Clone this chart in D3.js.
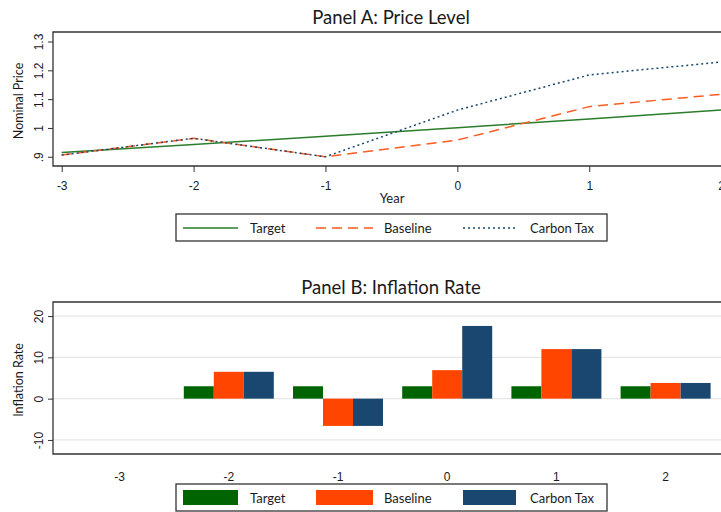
<!DOCTYPE html>
<html>
<head>
<meta charset="utf-8">
<script src="https://cdn.jsdelivr.net/npm/d3@7"></script>
<style>
  body { margin: 0; background: #fff; overflow: hidden; }
  svg { display: block; font-family: Lato, "Open Sans", sans-serif; }
</style>
</head>
<body>
<div id="chart"></div>
<script>
// data
const years = [-3, -2, -1, 0, 1, 2]
const priceTarget = [0.915, 0.943, 0.971, 1.001, 1.031, 1.062]
const priceBaseline = [0.906, 0.964, 0.900, 0.958, 1.074, 1.117]
const priceCarbon = [0.906, 0.964, 0.900, 1.062, 1.184, 1.229]
const priceTicks = [0.9, 1.0, 1.1, 1.2, 1.3]
const priceTickLabels = ['.9', '1', '1.1', '1.2', '1.3']

const inflYears = ['-3', '-2', '-1', '0', '1', '2']
const inflTarget = [null, 3.0, 3.0, 3.0, 3.0, 3.0]
const inflBaseline = [null, 6.5, -6.6, 6.9, 12.0, 3.8]
const inflCarbon = [null, 6.5, -6.6, 17.6, 12.0, 3.8]
const inflTicks = [-10, 0, 10, 20]

const seriesNames = ['Target', 'Baseline', 'Carbon Tax']
const lineColors = ['#2a7d2a', '#ff5a1f', '#1a476f']
const barColors = ['#006400', '#ff4500', '#1a476f']

const width = 721
const height = 512
const frameColor = '#333'
const textColor = '#1a1a1a'

let svg = d3.select('div#chart').append('svg').attr('width', width).attr('height', height)

// ---------- Panel A ----------
const A = { left: 53, right: 731, top: 32, bottom: 166 }
let xA = d3.scaleLinear().domain([-3.066, 2.075]).range([A.left, A.right])
let yA = d3.scaleLinear().domain([0.868, 1.333]).range([A.bottom, A.top])

svg.append('text').attr('x', 391).attr('y', 24).attr('text-anchor', 'middle')
    .attr('font-size', 18.5).attr('fill', textColor).text('Panel A: Price Level')

let gA = svg.append('g')
svg.append('clipPath').attr('id', 'clipA')
    .append('rect').attr('x', A.left).attr('y', A.top).attr('width', A.right - A.left).attr('height', A.bottom - A.top)

let lineA = d3.line().x((d, i) => xA(years[i])).y(d => yA(d))
const dashes = [null, '10,6', '2,3']
;[priceTarget, priceBaseline, priceCarbon].forEach((s, i) => {
    gA.append('path').datum(s).attr('d', lineA).attr('fill', 'none')
        .attr('stroke', lineColors[i]).attr('stroke-width', 1.5)
        .attr('stroke-dasharray', dashes[i]).attr('clip-path', 'url(#clipA)')
})

gA.append('path').attr('d', `M${A.right},${A.top}H${A.left}V${A.bottom}H${A.right}`)
    .attr('fill', 'none').attr('stroke', frameColor).attr('stroke-width', 1.3)

// y axis A
let yAxisA = svg.append('g').attr('transform', `translate(${A.left},0)`)
    .call(d3.axisLeft(yA).tickValues(priceTicks).tickSize(5).tickFormat((d, i) => priceTickLabels[i]))
yAxisA.select('.domain').remove()
yAxisA.selectAll('line').attr('stroke', frameColor)
yAxisA.selectAll('text').attr('font-size', 12).attr('fill', textColor).attr('font-family', null)
    .attr('text-anchor', 'middle').attr('x', 0).attr('y', 0).attr('dy', 0)
    .attr('transform', 'translate(-10,0) rotate(-90)')

svg.append('text').attr('transform', `translate(23,${(A.top + A.bottom) / 2 + 2}) rotate(-90)`)
    .attr('text-anchor', 'middle').attr('font-size', 12.5).attr('fill', textColor).text('Nominal Price')

// x axis A
let xAxisA = svg.append('g').attr('transform', `translate(0,${A.bottom})`)
    .call(d3.axisBottom(xA).tickValues(years).tickSize(6).tickFormat(d => String(d)))
xAxisA.select('.domain').remove()
xAxisA.selectAll('line').attr('stroke', frameColor)
xAxisA.selectAll('text').attr('font-size', 12).attr('fill', textColor).attr('font-family', null).attr('y', 15)
svg.append('text').attr('x', 392).attr('y', 203).attr('text-anchor', 'middle')
    .attr('font-size', 13).attr('fill', textColor).text('Year')

// legend A
let legA = svg.append('g')
legA.append('rect').attr('x', 176).attr('y', 214).attr('width', 431).attr('height', 27)
    .attr('fill', '#fff').attr('stroke', frameColor).attr('stroke-width', 1.3)
const legX = [[183, 238, 250], [316, 373, 384], [463, 516, 530]]
seriesNames.forEach((n, i) => {
    legA.append('line').attr('x1', legX[i][0]).attr('x2', legX[i][1]).attr('y1', 228).attr('y2', 228)
        .attr('stroke', lineColors[i]).attr('stroke-width', 1.5).attr('stroke-dasharray', dashes[i])
    legA.append('text').attr('x', legX[i][2]).attr('y', 232.5).attr('font-size', 13).attr('fill', textColor).text(n)
})

// ---------- Panel B ----------
const B = { left: 53, right: 731, top: 302, bottom: 454 }
let xB = d3.scaleBand().domain(inflYears).range([65, 720.2])
let xSub = d3.scaleBand().domain(seriesNames).range([0, 90])
let yB = d3.scaleLinear().domain([-13.4, 23.4]).range([B.bottom, B.top])

svg.append('text').attr('x', 391).attr('y', 294).attr('text-anchor', 'middle')
    .attr('font-size', 18.5).attr('fill', textColor).text('Panel B: Inflation Rate')

// gridlines
svg.append('g').selectAll('line').data(inflTicks).join('line')
    .attr('x1', B.left).attr('x2', B.right).attr('y1', d => yB(d)).attr('y2', d => yB(d))
    .attr('stroke', '#e6e6e6').attr('stroke-width', 1.3)

let barsG = svg.append('g')
;[inflTarget, inflBaseline, inflCarbon].forEach((s, si) => {
    barsG.selectAll(null).data(s.map((v, i) => ({ cat: inflYears[i], v: v })).filter(d => d.v !== null))
        .join('rect')
        .attr('x', d => xB(d.cat) + (xB.bandwidth() - 90) / 2 + xSub(seriesNames[si]))
        .attr('width', xSub.bandwidth())
        .attr('y', d => yB(Math.max(0, d.v)))
        .attr('height', d => Math.abs(yB(d.v) - yB(0)))
        .attr('fill', barColors[si])
})

svg.append('path').attr('d', `M${B.right},${B.top}H${B.left}V${B.bottom}H${B.right}`)
    .attr('fill', 'none').attr('stroke', frameColor).attr('stroke-width', 1.3)

let yAxisB = svg.append('g').attr('transform', `translate(${B.left},0)`)
    .call(d3.axisLeft(yB).tickValues(inflTicks).tickSize(5).tickFormat(d => String(d)))
yAxisB.select('.domain').remove()
yAxisB.selectAll('line').attr('stroke', frameColor)
yAxisB.selectAll('text').attr('font-size', 12).attr('fill', textColor).attr('font-family', null)
    .attr('text-anchor', 'middle').attr('x', 0).attr('y', 0).attr('dy', 0)
    .attr('transform', 'translate(-10,0) rotate(-90)')

svg.append('text').attr('transform', `translate(23,${(B.top + B.bottom) / 2 + 2}) rotate(-90)`)
    .attr('text-anchor', 'middle').attr('font-size', 12.5).attr('fill', textColor).text('Inflation Rate')

let xAxisB = svg.append('g').attr('transform', `translate(0,${B.bottom})`)
    .call(d3.axisBottom(xB).tickSize(0))
xAxisB.select('.domain').remove()
xAxisB.selectAll('text').attr('font-size', 12).attr('fill', textColor).attr('font-family', null).attr('y', 18)

// legend B
let legB = svg.append('g')
legB.append('rect').attr('x', 176).attr('y', 484).attr('width', 431).attr('height', 27)
    .attr('fill', '#fff').attr('stroke', frameColor).attr('stroke-width', 1.3)
seriesNames.forEach((n, i) => {
    legB.append('rect').attr('x', legX[i][0]).attr('y', 490).attr('width', legX[i][1] - legX[i][0]).attr('height', 15)
        .attr('fill', barColors[i])
    legB.append('text').attr('x', legX[i][2]).attr('y', 502.5).attr('font-size', 13).attr('fill', textColor).text(n)
})
</script>
</body>
</html>
